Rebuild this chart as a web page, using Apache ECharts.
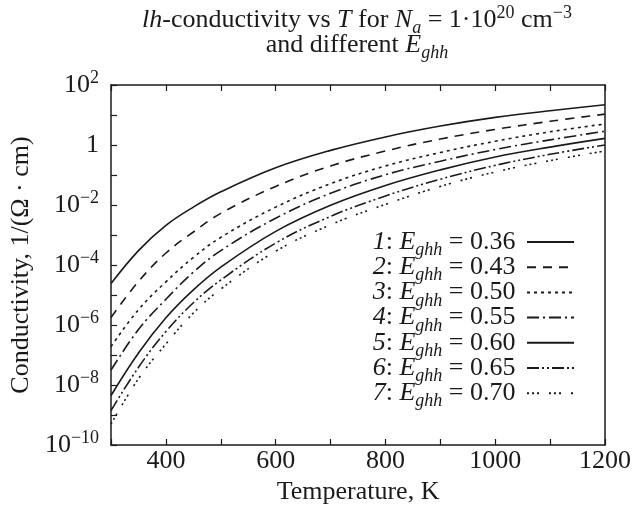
<!DOCTYPE html>
<html><head><meta charset="utf-8">
<script src="https://cdn.jsdelivr.net/npm/echarts@6/dist/echarts.min.js"></script>
<style>html,body{margin:0;padding:0;background:#fff}#c{width:634px;height:511px}</style>
</head><body><div id="c"></div>
<script>
// ---- data ----
const temperatures = [300, 350, 400, 450, 500, 600, 700, 800, 900, 1000, 1100, 1200];
const curveLabels = ['1', '2', '3', '4', '5', '6', '7'];
const eghhValues = ['0.36', '0.43', '0.50', '0.55', '0.60', '0.65', '0.70'];
const sigma1 = [2.40e-5, 3.02e-4, 2.09e-3, 8.51e-3, 2.75e-2, 0.174, 0.661, 1.86, 4.27, 8.32, 13.8, 21.9];
const sigma2 = [1.78e-6, 2.82e-5, 2.51e-4, 1.26e-3, 5.25e-3, 4.17e-2, 0.200, 0.631, 1.58, 3.31, 6.17, 10.7];
const sigma3 = [1.91e-7, 3.24e-6, 2.75e-5, 1.78e-4, 8.32e-4, 8.51e-3, 5.13e-2, 0.200, 0.562, 1.33, 2.75, 5.01];
const sigma4 = [3.16e-8, 7.08e-7, 7.24e-6, 5.75e-5, 3.02e-4, 3.63e-3, 2.45e-2, 0.102, 0.288, 0.708, 1.48, 2.88];
const sigma5 = [4.47e-9, 1.17e-7, 1.74e-6, 1.48e-5, 8.51e-5, 1.32e-3, 9.77e-3, 4.47e-2, 0.148, 0.398, 0.851, 1.66];
const sigma6 = [1.41e-9, 3.89e-8, 6.03e-7, 5.50e-6, 3.16e-5, 5.37e-4, 4.17e-3, 2.00e-2, 7.24e-2, 0.209, 0.490, 1.00];
const sigma7 = [5.01e-10, 1.62e-8, 2.34e-7, 2.51e-6, 1.58e-5, 2.88e-4, 2.19e-3, 1.05e-2, 4.17e-2, 0.126, 0.302, 0.631];
const xTickStep = 100;
const yMin = 1e-10, yMax = 100;

// ---- styles ----
const FONT = 'Liberation Serif';
const FS = 26, FS_SMALL = 18;
const INK = '#1a1a1a';
const dashStyles = [
  'solid',
  [9, 7],
  [3, 4],
  [12, 4, 2, 4],
  'solid',
  [12, 3, 2, 3, 2, 3],
  [2, 3, 2, 3, 2, 10]
];
const allSigma = [sigma1, sigma2, sigma3, sigma4, sigma5, sigma6, sigma7];

const series = allSigma.map((vals, k) => ({
  name: curveLabels[k],
  type: 'line',
  data: temperatures.map((t, i) => [t, vals[i]]),
  smooth: 0.4,
  symbol: 'none',
  clip: true,
  xAxisIndex: 0,
  yAxisIndex: 0,
  lineStyle: { color: INK, width: 1.6, type: dashStyles[k] },
  itemStyle: { color: INK },
  emphasis: { disabled: true },
  animation: false
}));

const supFmt = (e) => (e < 0 ? '\u2212' + (-e) : String(e));
const richTitle = {
  i: { fontFamily: FONT, fontSize: FS, fontStyle: 'italic', fill: INK },
  isub: { fontFamily: FONT, fontSize: FS_SMALL, fontStyle: 'italic', fill: INK, padding: [17, 0, 0, 0] },
  sup: { fontFamily: FONT, fontSize: FS_SMALL, fill: INK, padding: [0, 0, 14, 0] }
};

const chart = echarts.init(document.getElementById('c'), null, { renderer: 'canvas' });
chart.setOption({
  animation: false,
  backgroundColor: '#fff',
  grid: { left: 109, right: 28, top: 85, bottom: 66, containLabel: false },
  graphic: [{
    type: 'text',
    x: 357, y: 20,
    style: {
      text: '{i|lh}-conductivity vs {i|T} for {i|N}{isub|a} = 1\u00b710{sup|20} cm{sup|\u22123}',
      fontFamily: FONT, fontSize: FS, fill: INK, align: 'center', verticalAlign: 'middle',
      rich: richTitle
    }
  }, {
    type: 'text',
    x: 357, y: 45,
    style: {
      text: 'and different {i|E}{isub|ghh}',
      fontFamily: FONT, fontSize: FS, fill: INK, align: 'center', verticalAlign: 'middle',
      rich: richTitle
    }
  }],
  legend: {
    orient: 'vertical',
    right: 54, top: 224,
    align: 'right',
    itemWidth: 47, itemHeight: 12, itemGap: -5.3,
    selectedMode: false,
    itemStyle: { opacity: 0 },
    data: curveLabels,
    formatter: (name) => '{i|' + name + '}: {i|E}{sub|ghh} = ' + eghhValues[curveLabels.indexOf(name)] + ' ',
    textStyle: {
      fontFamily: FONT, fontSize: FS, color: INK,
      rich: {
        i: { fontFamily: FONT, fontSize: FS, fontStyle: 'italic', color: INK },
        sub: { fontFamily: FONT, fontSize: FS_SMALL, fontStyle: 'italic', color: INK, padding: [17, 0, 0, 0] }
      }
    }
  },
  xAxis: [{
    type: 'value', min: 300, max: 1200, interval: xTickStep, position: 'bottom',
    axisLine: { show: true, onZero: false, lineStyle: { color: INK, width: 1.5 } },
    axisTick: { show: true, inside: true, length: 6, lineStyle: { color: INK, width: 1.2 } },
    axisLabel: { formatter: (v) => (v % 200 === 0 ? String(v) : ''), fontFamily: FONT, fontSize: FS, color: INK, margin: 3, showMinLabel: true, showMaxLabel: true },
    splitLine: { show: false },
    name: 'Temperature, K', nameLocation: 'middle', nameGap: 27,
    nameTextStyle: { fontFamily: FONT, fontSize: FS, color: INK }
  }, {
    type: 'value', min: 300, max: 1200, interval: xTickStep, position: 'top',
    axisLine: { show: true, onZero: false, lineStyle: { color: INK, width: 1.5 } },
    axisTick: { show: true, inside: true, length: 6, lineStyle: { color: INK, width: 1.2 } },
    axisLabel: { show: false }, splitLine: { show: false }
  }],
  yAxis: [{
    type: 'log', logBase: 10, min: yMin, max: yMax, interval: 1, splitNumber: 12,
    axisLine: { show: true, onZero: false, lineStyle: { color: INK, width: 1.5 } },
    axisTick: { show: true, inside: true, length: 6, lineStyle: { color: INK, width: 1.2 } },
    minorTick: { show: false },
    axisLabel: {
      fontFamily: FONT, fontSize: FS, color: INK, margin: 12,
      formatter: (v) => {
        const e = Math.round(Math.log10(v));
        if (e % 2 !== 0) return '';
        if (e === 0) return '1';
        return '10{sup|' + supFmt(e) + '}';
      },
      rich: { sup: { fontFamily: FONT, fontSize: FS_SMALL, color: INK, padding: [0, 0, 14, 0] } }
    },
    splitLine: { show: false },
    name: 'Conductivity, 1/(\u03a9 \u00b7 cm)', nameLocation: 'middle', nameGap: 74, nameRotate: 90,
    nameTextStyle: { fontFamily: FONT, fontSize: FS, color: INK }
  }, {
    type: 'log', logBase: 10, min: yMin, max: yMax, position: 'right',
    axisLine: { show: true, onZero: false, lineStyle: { color: INK, width: 1.5 } },
    axisTick: { show: false }, axisLabel: { show: false }, splitLine: { show: false }
  }],
  series: series
});
</script>
</body></html>
